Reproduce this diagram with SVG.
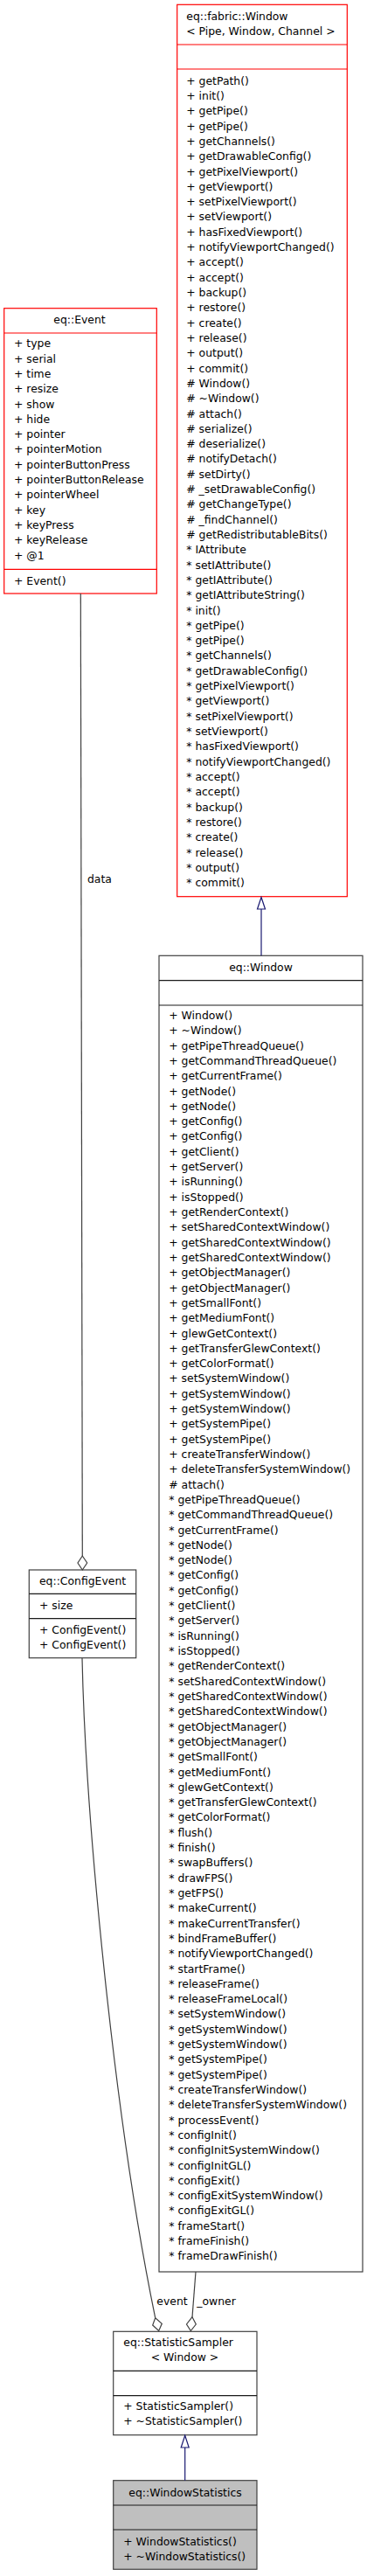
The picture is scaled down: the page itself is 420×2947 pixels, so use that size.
<svg xmlns="http://www.w3.org/2000/svg" width="420" height="2947" viewBox="0 0 420 2947">
<style>
text{font-family:"DejaVu Sans","Liberation Sans",sans-serif;font-size:12.4px;fill:#000}
.mid{text-anchor:middle}
.red{fill:#fff;stroke:#ff0000;stroke-width:1.2}
.redl{stroke:#ff0000;stroke-width:1.2}
.box{fill:#fff;stroke:#404040;stroke-width:1.2}
.cur{fill:#bfbfbf;stroke:#404040;stroke-width:1.2}
.sep{stroke:#1a1a1a;stroke-width:1.2}
.inh{stroke:#191970;stroke-width:1.2;fill:none}
.tri{fill:#fff;stroke:#191970;stroke-width:1.2}
.agg{stroke:#404040;stroke-width:1.2;fill:none}
.dia{fill:#fff;stroke:#404040;stroke-width:1.2}
</style>
<g id="fabricWindow">
<rect class="red" x="202.7" y="5.3" width="194.6" height="1020.4"/>
<line class="redl" x1="202.7" y1="51" x2="397.3" y2="51"/>
<line class="redl" x1="202.7" y1="79" x2="397.3" y2="79"/>
<text x="213.3" y="22.7">eq::fabric::Window</text>
<text x="213.3" y="40">&lt; Pipe, Window, Channel &gt;</text>
<text x="213.3" y="96.7"><tspan x="213.3" dy="0">+ getPath()</tspan><tspan x="213.3" dy="17.31">+ init()</tspan><tspan x="213.3" dy="17.31">+ getPipe()</tspan><tspan x="213.3" dy="17.31">+ getPipe()</tspan><tspan x="213.3" dy="17.31">+ getChannels()</tspan><tspan x="213.3" dy="17.31">+ getDrawableConfig()</tspan><tspan x="213.3" dy="17.31">+ getPixelViewport()</tspan><tspan x="213.3" dy="17.31">+ getViewport()</tspan><tspan x="213.3" dy="17.31">+ setPixelViewport()</tspan><tspan x="213.3" dy="17.31">+ setViewport()</tspan><tspan x="213.3" dy="17.31">+ hasFixedViewport()</tspan><tspan x="213.3" dy="17.31">+ notifyViewportChanged()</tspan><tspan x="213.3" dy="17.31">+ accept()</tspan><tspan x="213.3" dy="17.31">+ accept()</tspan><tspan x="213.3" dy="17.31">+ backup()</tspan><tspan x="213.3" dy="17.31">+ restore()</tspan><tspan x="213.3" dy="17.31">+ create()</tspan><tspan x="213.3" dy="17.31">+ release()</tspan><tspan x="213.3" dy="17.31">+ output()</tspan><tspan x="213.3" dy="17.31">+ commit()</tspan><tspan x="213.3" dy="17.31"># Window()</tspan><tspan x="213.3" dy="17.31"># ~Window()</tspan><tspan x="213.3" dy="17.31"># attach()</tspan><tspan x="213.3" dy="17.31"># serialize()</tspan><tspan x="213.3" dy="17.31"># deserialize()</tspan><tspan x="213.3" dy="17.31"># notifyDetach()</tspan><tspan x="213.3" dy="17.31"># setDirty()</tspan><tspan x="213.3" dy="17.31"># _setDrawableConfig()</tspan><tspan x="213.3" dy="17.31"># getChangeType()</tspan><tspan x="213.3" dy="17.31"># _findChannel()</tspan><tspan x="213.3" dy="17.31"># getRedistributableBits()</tspan><tspan x="213.3" dy="17.31">* IAttribute</tspan><tspan x="213.3" dy="17.31">* setIAttribute()</tspan><tspan x="213.3" dy="17.31">* getIAttribute()</tspan><tspan x="213.3" dy="17.31">* getIAttributeString()</tspan><tspan x="213.3" dy="17.31">* init()</tspan><tspan x="213.3" dy="17.31">* getPipe()</tspan><tspan x="213.3" dy="17.31">* getPipe()</tspan><tspan x="213.3" dy="17.31">* getChannels()</tspan><tspan x="213.3" dy="17.31">* getDrawableConfig()</tspan><tspan x="213.3" dy="17.31">* getPixelViewport()</tspan><tspan x="213.3" dy="17.31">* getViewport()</tspan><tspan x="213.3" dy="17.31">* setPixelViewport()</tspan><tspan x="213.3" dy="17.31">* setViewport()</tspan><tspan x="213.3" dy="17.31">* hasFixedViewport()</tspan><tspan x="213.3" dy="17.31">* notifyViewportChanged()</tspan><tspan x="213.3" dy="17.31">* accept()</tspan><tspan x="213.3" dy="17.31">* accept()</tspan><tspan x="213.3" dy="17.31">* backup()</tspan><tspan x="213.3" dy="17.31">* restore()</tspan><tspan x="213.3" dy="17.31">* create()</tspan><tspan x="213.3" dy="17.31">* release()</tspan><tspan x="213.3" dy="17.31">* output()</tspan><tspan x="213.3" dy="17.31">* commit()</tspan></text>
</g>
<g id="event">
<rect class="red" x="4.7" y="352.7" width="174.6" height="326.3"/>
<line class="redl" x1="4.7" y1="381" x2="179.3" y2="381"/>
<line class="redl" x1="4.7" y1="651.3" x2="179.3" y2="651.3"/>
<text class="mid" x="91" y="370">eq::Event</text>
<text x="16" y="397.3"><tspan x="16" dy="0">+ type</tspan><tspan x="16" dy="17.31">+ serial</tspan><tspan x="16" dy="17.31">+ time</tspan><tspan x="16" dy="17.31">+ resize</tspan><tspan x="16" dy="17.31">+ show</tspan><tspan x="16" dy="17.31">+ hide</tspan><tspan x="16" dy="17.31">+ pointer</tspan><tspan x="16" dy="17.31">+ pointerMotion</tspan><tspan x="16" dy="17.31">+ pointerButtonPress</tspan><tspan x="16" dy="17.31">+ pointerButtonRelease</tspan><tspan x="16" dy="17.31">+ pointerWheel</tspan><tspan x="16" dy="17.31">+ key</tspan><tspan x="16" dy="17.31">+ keyPress</tspan><tspan x="16" dy="17.31">+ keyRelease</tspan><tspan x="16" dy="17.31">+ @1</tspan></text>
<text x="16" y="668.7">+ Event()</text>
</g>
<g id="window">
<rect class="box" x="182" y="1093.3" width="233" height="1505.7"/>
<line class="sep" x1="182" y1="1121.7" x2="415" y2="1121.7"/>
<line class="sep" x1="182" y1="1150" x2="415" y2="1150"/>
<text class="mid" x="298.5" y="1110.7">eq::Window</text>
<text x="193.3" y="1166"><tspan x="193.3" dy="0">+ Window()</tspan><tspan x="193.3" dy="17.31">+ ~Window()</tspan><tspan x="193.3" dy="17.31">+ getPipeThreadQueue()</tspan><tspan x="193.3" dy="17.31">+ getCommandThreadQueue()</tspan><tspan x="193.3" dy="17.31">+ getCurrentFrame()</tspan><tspan x="193.3" dy="17.31">+ getNode()</tspan><tspan x="193.3" dy="17.31">+ getNode()</tspan><tspan x="193.3" dy="17.31">+ getConfig()</tspan><tspan x="193.3" dy="17.31">+ getConfig()</tspan><tspan x="193.3" dy="17.31">+ getClient()</tspan><tspan x="193.3" dy="17.31">+ getServer()</tspan><tspan x="193.3" dy="17.31">+ isRunning()</tspan><tspan x="193.3" dy="17.31">+ isStopped()</tspan><tspan x="193.3" dy="17.31">+ getRenderContext()</tspan><tspan x="193.3" dy="17.31">+ setSharedContextWindow()</tspan><tspan x="193.3" dy="17.31">+ getSharedContextWindow()</tspan><tspan x="193.3" dy="17.31">+ getSharedContextWindow()</tspan><tspan x="193.3" dy="17.31">+ getObjectManager()</tspan><tspan x="193.3" dy="17.31">+ getObjectManager()</tspan><tspan x="193.3" dy="17.31">+ getSmallFont()</tspan><tspan x="193.3" dy="17.31">+ getMediumFont()</tspan><tspan x="193.3" dy="17.31">+ glewGetContext()</tspan><tspan x="193.3" dy="17.31">+ getTransferGlewContext()</tspan><tspan x="193.3" dy="17.31">+ getColorFormat()</tspan><tspan x="193.3" dy="17.31">+ setSystemWindow()</tspan><tspan x="193.3" dy="17.31">+ getSystemWindow()</tspan><tspan x="193.3" dy="17.31">+ getSystemWindow()</tspan><tspan x="193.3" dy="17.31">+ getSystemPipe()</tspan><tspan x="193.3" dy="17.31">+ getSystemPipe()</tspan><tspan x="193.3" dy="17.31">+ createTransferWindow()</tspan><tspan x="193.3" dy="17.31">+ deleteTransferSystemWindow()</tspan><tspan x="193.3" dy="17.31"># attach()</tspan><tspan x="193.3" dy="17.31">* getPipeThreadQueue()</tspan><tspan x="193.3" dy="17.31">* getCommandThreadQueue()</tspan><tspan x="193.3" dy="17.31">* getCurrentFrame()</tspan><tspan x="193.3" dy="17.31">* getNode()</tspan><tspan x="193.3" dy="17.31">* getNode()</tspan><tspan x="193.3" dy="17.31">* getConfig()</tspan><tspan x="193.3" dy="17.31">* getConfig()</tspan><tspan x="193.3" dy="17.31">* getClient()</tspan><tspan x="193.3" dy="17.31">* getServer()</tspan><tspan x="193.3" dy="17.31">* isRunning()</tspan><tspan x="193.3" dy="17.31">* isStopped()</tspan><tspan x="193.3" dy="17.31">* getRenderContext()</tspan><tspan x="193.3" dy="17.31">* setSharedContextWindow()</tspan><tspan x="193.3" dy="17.31">* getSharedContextWindow()</tspan><tspan x="193.3" dy="17.31">* getSharedContextWindow()</tspan><tspan x="193.3" dy="17.31">* getObjectManager()</tspan><tspan x="193.3" dy="17.31">* getObjectManager()</tspan><tspan x="193.3" dy="17.31">* getSmallFont()</tspan><tspan x="193.3" dy="17.31">* getMediumFont()</tspan><tspan x="193.3" dy="17.31">* glewGetContext()</tspan><tspan x="193.3" dy="17.31">* getTransferGlewContext()</tspan><tspan x="193.3" dy="17.31">* getColorFormat()</tspan><tspan x="193.3" dy="17.31">* flush()</tspan><tspan x="193.3" dy="17.31">* finish()</tspan><tspan x="193.3" dy="17.31">* swapBuffers()</tspan><tspan x="193.3" dy="17.31">* drawFPS()</tspan><tspan x="193.3" dy="17.31">* getFPS()</tspan><tspan x="193.3" dy="17.31">* makeCurrent()</tspan><tspan x="193.3" dy="17.31">* makeCurrentTransfer()</tspan><tspan x="193.3" dy="17.31">* bindFrameBuffer()</tspan><tspan x="193.3" dy="17.31">* notifyViewportChanged()</tspan><tspan x="193.3" dy="17.31">* startFrame()</tspan><tspan x="193.3" dy="17.31">* releaseFrame()</tspan><tspan x="193.3" dy="17.31">* releaseFrameLocal()</tspan><tspan x="193.3" dy="17.31">* setSystemWindow()</tspan><tspan x="193.3" dy="17.31">* getSystemWindow()</tspan><tspan x="193.3" dy="17.31">* getSystemWindow()</tspan><tspan x="193.3" dy="17.31">* getSystemPipe()</tspan><tspan x="193.3" dy="17.31">* getSystemPipe()</tspan><tspan x="193.3" dy="17.31">* createTransferWindow()</tspan><tspan x="193.3" dy="17.31">* deleteTransferSystemWindow()</tspan><tspan x="193.3" dy="17.31">* processEvent()</tspan><tspan x="193.3" dy="17.31">* configInit()</tspan><tspan x="193.3" dy="17.31">* configInitSystemWindow()</tspan><tspan x="193.3" dy="17.31">* configInitGL()</tspan><tspan x="193.3" dy="17.31">* configExit()</tspan><tspan x="193.3" dy="17.31">* configExitSystemWindow()</tspan><tspan x="193.3" dy="17.31">* configExitGL()</tspan><tspan x="193.3" dy="17.31">* frameStart()</tspan><tspan x="193.3" dy="17.31">* frameFinish()</tspan><tspan x="193.3" dy="17.31">* frameDrawFinish()</tspan></text>
</g>
<g id="configEvent">
<rect class="box" x="33.3" y="1796" width="122.4" height="100.7"/>
<line class="sep" x1="33.3" y1="1823.3" x2="155.7" y2="1823.3"/>
<line class="sep" x1="33.3" y1="1851.7" x2="155.7" y2="1851.7"/>
<text x="45" y="1813.3">eq::ConfigEvent</text>
<text x="45" y="1840.7">+ size</text>
<text x="45" y="1869">+ ConfigEvent()</text>
<text x="45" y="1886">+ ConfigEvent()</text>
</g>
<g id="statisticSampler">
<rect class="box" x="129.7" y="2667.3" width="164.3" height="118.4"/>
<line class="sep" x1="129.7" y1="2712.3" x2="294" y2="2712.3"/>
<line class="sep" x1="129.7" y1="2740.7" x2="294" y2="2740.7"/>
<text x="141.3" y="2684.3">eq::StatisticSampler</text>
<text class="mid" x="211.5" y="2701">&lt; Window &gt;</text>
<text x="141.3" y="2757.3">+ StatisticSampler()</text>
<text x="141.3" y="2774.3">+ ~StatisticSampler()</text>
</g>
<g id="windowStatistics">
<rect class="cur" x="129.7" y="2837.7" width="164.3" height="101.6"/>
<line class="sep" x1="129.7" y1="2866" x2="294" y2="2866"/>
<line class="sep" x1="129.7" y1="2894" x2="294" y2="2894"/>
<text class="mid" x="212" y="2856">eq::WindowStatistics</text>
<text x="141.3" y="2911.7">+ WindowStatistics()</text>
<text x="141.3" y="2928.7">+ ~WindowStatistics()</text>
</g>
<g id="connectors">
<line class="inh" x1="299" y1="1040" x2="299" y2="1093.3"/>
<polygon class="tri" points="299,1026.5 294.5,1040 303.5,1040"/>
<line class="inh" x1="211.7" y1="2800" x2="211.7" y2="2837.7"/>
<polygon class="tri" points="211.7,2786.2 207.2,2800 216.2,2800"/>
<path class="agg" d="M92.3,679 L94.3,1780"/>
<polygon class="dia" points="94.3,1780 99.7,1788 94.3,1796 89,1788"/>
<text x="100" y="1010">data</text>
<path class="agg" d="M94,1897 C98,2080 130,2420 177.7,2651.7"/>
<polygon class="dia" points="177.7,2651.7 185.3,2658.3 181.7,2666.5 174.7,2660"/>
<text x="179.3" y="2636.7">event</text>
<path class="agg" d="M224,2599 L220,2650.7"/>
<polygon class="dia" points="220,2650.7 224.3,2659 218.3,2666.5 213.5,2659"/>
<text x="225.3" y="2636.7">_owner</text>
</g>
</svg>
